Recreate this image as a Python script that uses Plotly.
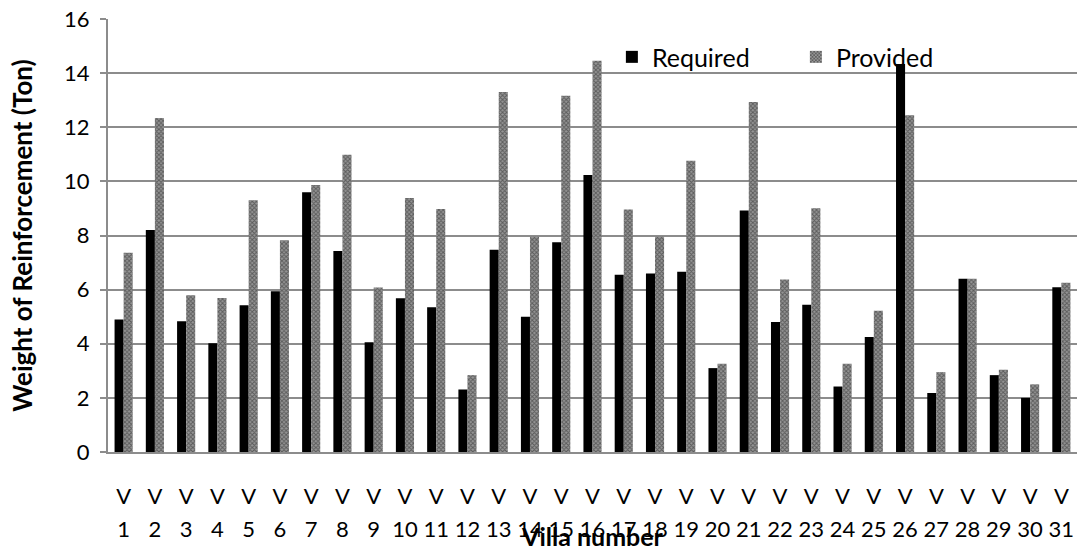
import plotly.graph_objects as go

villa_numbers = list(range(1, 32))
villa_prefix = ["V"] * 31
required = [4.9, 8.2, 4.83, 4.02, 5.42, 5.94, 9.6, 7.43, 4.06, 5.68, 5.35, 2.31, 7.47,
            5.0, 7.75, 10.24, 6.55, 6.6, 6.66, 3.1, 8.92, 4.8, 5.44, 2.42, 4.25,
            14.34, 2.18, 6.4, 2.84, 2.0, 6.09]
provided = [7.36, 12.34, 5.79, 5.69, 9.3, 7.82, 9.87, 10.98, 6.08, 9.39, 8.98, 2.84, 13.3,
            7.95, 13.16, 14.46, 8.96, 7.95, 10.76, 3.26, 12.93, 6.37, 9.01, 3.26, 5.22,
            12.44, 2.95, 6.4, 3.04, 2.5, 6.25]
y_ticks = [0, 2, 4, 6, 8, 10, 12, 14, 16]

FONT = "Lato"
GRID = "#8c8c8c"
TS = 22

fig = go.Figure()
fig.add_trace(go.Bar(x=villa_numbers, y=required, name="Required",
                     marker=dict(color="black", line=dict(width=0))))
fig.add_trace(go.Bar(x=villa_numbers, y=provided, name="Provided",
                     marker=dict(color="white", line=dict(width=0),
                                 pattern=dict(shape="x", size=3, solidity=0.55,
                                              fgcolor="#222222", bgcolor="#969696"))))
# carrier for the "V" row of the two-line category labels
fig.add_trace(go.Scatter(x=villa_numbers, y=[None] * 31, xaxis="x2", mode="markers",
                         showlegend=False, hoverinfo="skip"))

fig.update_layout(
    width=1077, height=551,
    margin=dict(l=108, r=0, t=19, b=99),
    paper_bgcolor="white", plot_bgcolor="white",
    barmode="group", bargap=0.42, bargroupgap=0,
    font=dict(family=FONT, color="black", size=TS),
    showlegend=True,
    legend=dict(orientation="h", x=0.52, y=0.912, xanchor="left", yanchor="middle",
                bgcolor="rgba(0,0,0,0)", font=dict(size=25, family=FONT),
                itemwidth=30, entrywidth=139, traceorder="normal"),
    xaxis=dict(range=[0.5, 31.5], tickmode="array", tickvals=villa_numbers,
               ticktext=[str(v) for v in villa_numbers], showgrid=False,
               showline=True, linecolor=GRID, linewidth=2, ticks="",
               ticklabelstandoff=57, tickfont=dict(size=TS, family=FONT),
               title=dict(text="<b>Villa number</b>", font=dict(size=25, family=FONT),
                          standoff=4),
               automargin=False, zeroline=False),
    xaxis2=dict(range=[0.5, 31.5], overlaying="x", anchor="y", side="bottom",
                tickmode="array", tickvals=villa_numbers, ticktext=villa_prefix,
                showgrid=False, showline=False, ticks="", ticklabelstandoff=29,
                tickfont=dict(size=TS, family=FONT), automargin=False, zeroline=False),
    yaxis=dict(range=[0, 16], tickmode="array", tickvals=y_ticks,
               ticktext=[str(v) for v in y_ticks],
               showgrid=True, gridcolor=GRID, gridwidth=2,
               showline=True, linecolor=GRID, linewidth=2,
               ticks="outside", ticklen=6, tickcolor=GRID, tickwidth=1.5,
               ticklabelstandoff=6, tickfont=dict(size=TS, family=FONT),
               title=dict(text="<b>Weight of Reinforcement (Ton)</b>",
                          font=dict(size=26, family=FONT), standoff=24),
               automargin=False, zeroline=False),
)

fig.write_html("out.html")
